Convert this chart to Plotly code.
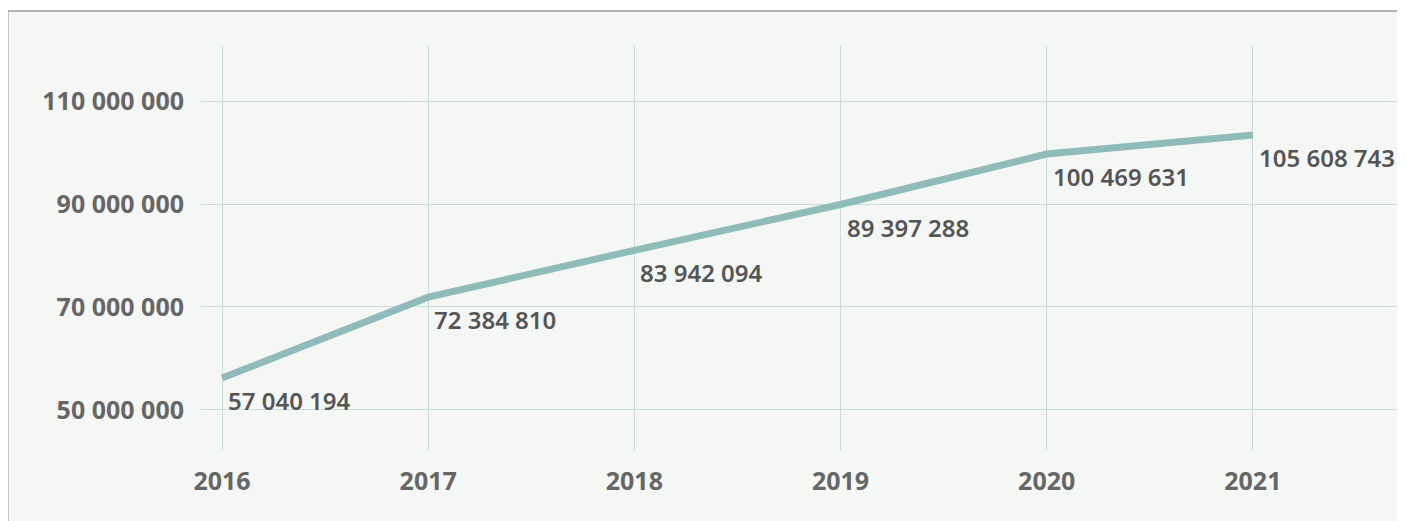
import plotly.graph_objects as go

years = [2016, 2017, 2018, 2019, 2020, 2021]
# labelled values
values = [57040194, 72384810, 83942094, 89397288, 100469631, 105608743]
line_values = [56200000, 71900000, 81000000, 89900000, 99700000, 103400000]
y_ticks = [50000000, 70000000, 90000000, 110000000]


def fmt(v):
    return f"{v:,}".replace(",", " ")


fig = go.Figure()

fig.add_trace(go.Scatter(
    x=years, y=line_values, mode="lines",
    line=dict(color="#8fbcbb", width=7),
    hoverinfo="skip", showlegend=False,
))

# value labels, below-right of each point
for x, ly, v in zip(years, line_values, values):
    fig.add_annotation(
        x=x, y=ly, text=fmt(v), showarrow=False,
        xanchor="left", yanchor="top", xshift=4, yshift=-4,
        font=dict(family="Noto Sans", size=24, color="#555555", weight=600),
    )

# panel background with grey border (top/left visible)
fig.add_shape(
    type="rect", xref="paper", yref="paper",
    x0=-0.1605, x1=1.5, y0=-0.6, y1=1.0866,
    fillcolor="#f5f7f5", line=dict(color="#9a9a9a", width=1.5),
    layer="below",
)

# the page adds an 8px body margin, so the figure is sized to fit the window
fig.update_layout(
    width=1397, height=513,
    margin=dict(l=193, r=0, t=38, b=71),
    paper_bgcolor="white",
    plot_bgcolor="#f5f7f5",
    showlegend=False,
    xaxis=dict(
        range=[2015.898, 2021.738],
        tickvals=years, ticktext=[str(y) for y in years],
        showgrid=True, gridcolor="#c8dde0", gridwidth=1,
        zeroline=False, showline=False,
        ticks="outside", ticklen=9, tickcolor="rgba(0,0,0,0)",
        tickfont=dict(family="Noto Sans", size=25, color="#666666", weight="bold"),
    ),
    yaxis=dict(
        range=[42200000, 120700000],
        tickvals=y_ticks, ticktext=[fmt(t) for t in y_ticks],
        showgrid=True, gridcolor="#c8dde0", gridwidth=1,
        zeroline=False, showline=False,
        ticks="outside", ticklen=11, tickcolor="rgba(0,0,0,0)",
        tickfont=dict(family="Noto Sans", size=25, color="#666666", weight="bold"),
    ),
)

fig.write_html("out.html")
